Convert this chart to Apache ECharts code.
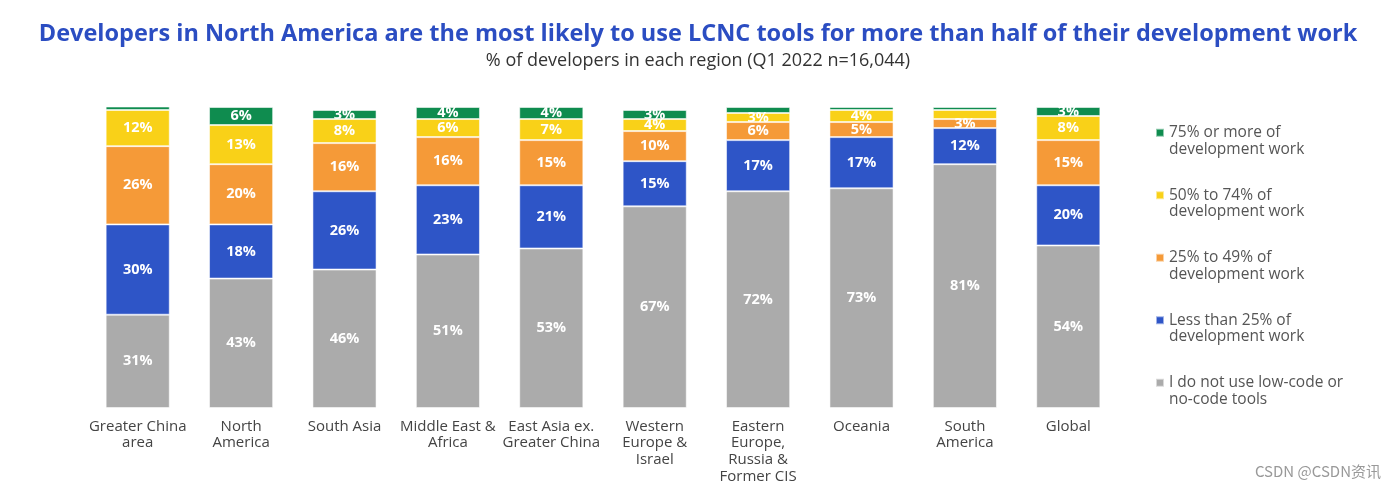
<!DOCTYPE html>
<html>
<head>
<meta charset="utf-8">
<script src="https://cdn.jsdelivr.net/npm/echarts@6/dist/echarts.min.js"></script>
<style>html,body{margin:0;padding:0;background:#fff}#c{width:1396px;height:488px}</style>
</head>
<body>
<div id="c"></div>
<script>
const categories = ['Greater China\narea','North\nAmerica','South Asia','Middle East &\nAfrica','East Asia ex.\nGreater China','Western\nEurope &\nIsrael','Eastern\nEurope,\nRussia &\nFormer CIS','Oceania','South\nAmerica','Global'];
const seriesNames = ['I do not use low-code or\nno-code tools','Less than 25% of\ndevelopment work','25% to 49% of\ndevelopment work','50% to 74% of\ndevelopment work','75% or more of\ndevelopment work'];
const notUsing   = [31,43,46,51,53,67,72,73,81,54];
const lessThan25 = [30,18,26,23,21,15,17,17,12,20];
const from25to49 = [26,20,16,16,15,10,6,5,3,15];
const from50to74 = [12,13,8,6,7,4,3,4,3,8];
const over75     = [2,6,3,4,4,3,2,1,1,3];
// segments whose labels are not printed in the source
const unlabeled = {4:[0,6,7,8], 3:[8]};
const colors = ['#ababab','#2e55c7','#f59a38','#f9d118','#0f8c4f'];

const allValues = [notUsing,lessThan25,from25to49,from50to74,over75];
const chart = echarts.init(document.getElementById('c'));
const series = allValues.map((vals,si)=>({
  name: seriesNames[si],
  type: 'bar',
  stack: 'total',
  barWidth: '62%',
  itemStyle: {color: colors[si], borderColor:'rgba(255,255,255,0.55)', borderWidth:1},
  label: {show:true, position:'inside', color:'#fff', fontFamily:'Open Sans', fontWeight:'bold', fontSize:14.5,
    formatter: p => ((unlabeled[si]||[]).includes(p.dataIndex) ? '' : p.value + '%')},
  data: vals
}));
chart.setOption({
  animation:false,
  title: {
    text: 'Developers in North America are the most likely to use LCNC tools for more than half of their development work',
    subtext: '% of developers in each region (Q1 2022 n=16,044)',
    left: 'center', top: 17, itemGap: 6,
    textStyle: {fontFamily:'Open Sans', fontWeight:'bold', fontSize:23.5, color:'#2b4dc2'},
    subtextStyle: {fontFamily:'Open Sans', fontSize:18, color:'#333'}
  },
  legend: {
    orient:'vertical', left:1155, top:108, padding:0, itemGap:13,
    itemWidth:8, itemHeight:8, icon:'rect',
    data: seriesNames.slice().reverse(),
    formatter: n => '\n' + n,
    textStyle:{fontFamily:'Open Sans', fontSize:15.5, color:'#555', lineHeight:16.5}
  },
  grid: {left:86, right:276, top:107, bottom:80, containLabel:false},
  xAxis: {type:'category', data:categories,
    axisLine:{show:false}, axisTick:{show:false},
    axisLabel:{interval:0, margin:10, fontFamily:'Open Sans', fontSize:15, color:'#444', lineHeight:16.7}},
  yAxis: {type:'value', min:0, max:100, show:false, splitLine:{show:false}},
  graphic: [{type:'text', x:1381, y:471, style:{text:'CSDN @CSDN资讯', fill:'#999', align:'right', verticalAlign:'middle', font:'15px "Noto Sans CJK SC"'}}],
  series
});
</script>
</body>
</html>
